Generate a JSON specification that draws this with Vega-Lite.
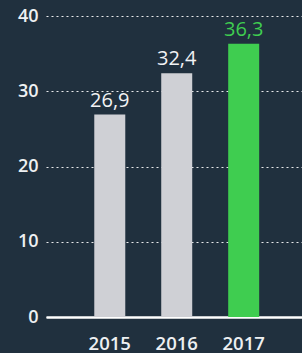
{
  "$schema": "https://vega.github.io/schema/vega-lite/v6.json",
  "width": 256,
  "height": 301,
  "autosize": {"type": "none"},
  "padding": {"left": 46, "top": 16, "right": 0, "bottom": 36},
  "background": "#20303e",
  "data": {"values": [
    {"year": "2015", "value": 26.9, "label": "26,9"},
    {"year": "2016", "value": 32.4, "label": "32,4"},
    {"year": "2017", "value": 36.3, "label": "36,3"}
  ]},
  "encoding": {
    "x": {"field": "year", "type": "nominal", "sort": null,
      "scale": {"paddingInner": 0.537, "paddingOuter": 0.68, "align": 0.53},
      "axis": {"title": null, "labelAngle": 0, "ticks": false, "grid": false,
        "domainColor": "#ffffff", "domainWidth": 2.5,
        "labelColor": "#eef0f2", "labelFont": "Open Sans", "labelFontSize": 18.5, "labelFontWeight": 600,
        "labelPadding": 17}},
    "y": {"field": "value", "type": "quantitative",
      "scale": {"domain": [0, 40], "nice": false},
      "axis": {"title": null, "values": [0, 10, 20, 30, 40], "ticks": false, "domain": false,
        "grid": true, "gridColor": "#ffffff", "gridDash": [2, 3], "gridWidth": 1, "gridOpacity": 0.9,
        "labelColor": "#eef0f2", "labelFont": "Open Sans", "labelFontSize": 18, "labelFontWeight": 600,
        "labelPadding": 8}},
    "color": {"field": "year", "type": "nominal", "legend": null,
      "scale": {"domain": ["2015", "2016", "2017"], "range": ["#cfd0d5", "#cfd0d5", "#3fcd50"]}}
  },
  "layer": [
    {"mark": {"type": "bar"}},
    {"mark": {"type": "text", "baseline": "bottom", "dy": -4, "font": "Open Sans", "fontSize": 20},
     "encoding": {
       "text": {"field": "label"},
       "color": {"field": "year", "type": "nominal", "legend": null,
         "scale": {"domain": ["2015", "2016", "2017"], "range": ["#f2f3f5", "#f2f3f5", "#3fcd50"]}}
     }}
  ],
  "resolve": {"scale": {"color": "independent"}},
  "config": {"view": {"stroke": null}}
}
